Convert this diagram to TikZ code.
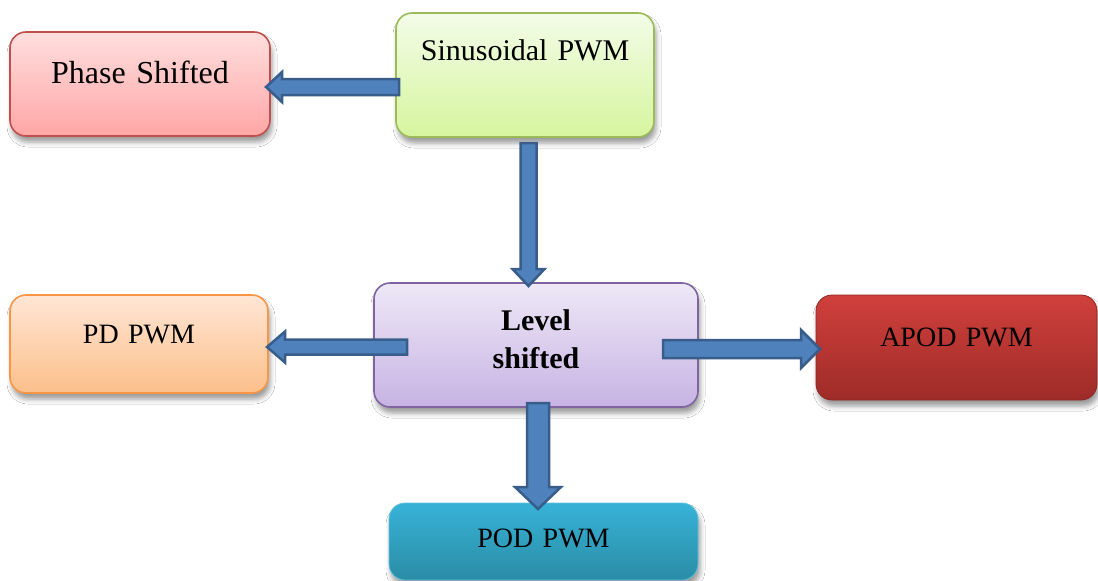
\documentclass[tikz,border=0pt]{standalone}
\usepackage{fontspec}
\setmainfont{Liberation Serif}
\usetikzlibrary{shadows.blur,calc}
\definecolor{arrfill}{HTML}{4F81BD}
\definecolor{arrdraw}{HTML}{385D8A}
\definecolor{phTop}{HTML}{FFDEDE}
\definecolor{phBot}{HTML}{FFA6A6}
\definecolor{phLine}{HTML}{C0504D}
\definecolor{sinTop}{HTML}{F3FCE8}
\definecolor{sinBot}{HTML}{D6F59E}
\definecolor{sinLine}{HTML}{9BBB59}
\definecolor{lvTop}{HTML}{EEE8F7}
\definecolor{lvBot}{HTML}{C7B3E3}
\definecolor{lvLine}{HTML}{8064A2}
\definecolor{pdTop}{HTML}{FFE6D5}
\definecolor{pdBot}{HTML}{FCBF8A}
\definecolor{pdLine}{HTML}{F79646}
\definecolor{apTop}{HTML}{D0403C}
\definecolor{apBot}{HTML}{9E2B28}
\definecolor{poTop}{HTML}{37B3D7}
\definecolor{poBot}{HTML}{2A8CA6}
\tikzset{
  box/.style={anchor=north west, inner sep=0pt, outer sep=0pt, align=center,
    rounded corners=16pt, line width=1.6pt,
    blur shadow={shadow xshift=2pt, shadow yshift=-6pt, shadow blur radius=5pt, shadow opacity=40}},
  barrow/.style={fill=arrfill, draw=arrdraw, line width=2.5pt, line join=miter}
}
\newcommand\blockarrow[5]{%
  \draw[barrow] let \p1=(#1), \p2=(#2),
    \n1={atan2(\y2-\y1,\x2-\x1)}, \n2={veclen(\x2-\x1,\y2-\y1)} in
    [shift={(\p1)}, rotate=\n1]
    (0,-#3) -- (\n2-#5,-#3) -- (\n2-#5,-#4) -- (\n2,0) -- (\n2-#5,#4) -- (\n2-#5,#3) -- (0,#3) -- cycle;}
\begin{document}
\begin{tikzpicture}[x=1pt,y=-1pt]
\useasboundingbox (0,0) rectangle (1098,581);
\fill[white] (0,0) rectangle (1098,581);

\node[box, top color=phTop, bottom color=phBot, draw=phLine,
  text width=260pt, text height=51pt, text depth=53pt,
  font=\fontsize{32}{38}\selectfont] (ph) at (10,32) {Phase Shifted};
\node[box, top color=sinTop, bottom color=sinBot, draw=sinLine,
  text width=258pt, text height=47pt, text depth=77pt,
  font=\fontsize{30}{36}\selectfont] (sin) at (396,13) {Sinusoidal PWM};
\node[box, top color=lvTop, bottom color=lvBot, draw=lvLine,
  text width=324pt, text height=47pt, text depth=77pt,
  font=\fontsize{30}{38}\selectfont\bfseries] (lvl) at (374,283) {Level\\shifted};
\node[box, top color=pdTop, bottom color=pdBot, draw=pdLine,
  text width=258pt, text height=48pt, text depth=50pt,
  font=\fontsize{28}{34}\selectfont] (pd) at (10,295) {PD PWM};
\node[box, top color=apTop, bottom color=apBot, draw=apBot!90!black,
  line width=0.8pt,
  text width=281pt, text height=51pt, text depth=54pt,
  font=\fontsize{28}{34}\selectfont] (apod) at (816,295) {APOD PWM};
\node[box, top color=poTop, bottom color=poBot, draw=poTop!80!white,
  line width=0.8pt,
  text width=309pt, text height=44pt, text depth=33pt,
  font=\fontsize{28}{34}\selectfont] (pod) at (389,503) {POD PWM};

\coordinate (a1s) at ([xshift=3pt,yshift=-12pt]sin.west);
\coordinate (a1e) at ([xshift=-4pt]ph.east |- a1s);
\coordinate (a2s) at ([xshift=3.5pt,yshift=-6pt]sin.south);
\coordinate (a2e) at ([yshift=-3pt]lvl.north -| a2s);
\coordinate (a3s) at ([xshift=33pt,yshift=-2pt]lvl.west);
\coordinate (a3e) at ([xshift=-1pt]pd.east |- a3s);
\coordinate (a4s) at ([xshift=-35pt,yshift=-4pt]lvl.east);
\coordinate (a4e) at ([xshift=4pt]apod.west |- a4s);
\coordinate (a5s) at ([xshift=2pt,yshift=4pt]lvl.south);
\coordinate (a5e) at ([yshift=-6pt]pod.north -| a5s);

\blockarrow{a1s}{a1e}{8}{15}{16}
\blockarrow{a2s}{a2e}{8}{16}{17}
\blockarrow{a3s}{a3e}{7.5}{15.5}{18}
\blockarrow{a4s}{a4e}{9}{19}{19}
\blockarrow{a5s}{a5e}{11}{23}{22}
\end{tikzpicture}
\end{document}
